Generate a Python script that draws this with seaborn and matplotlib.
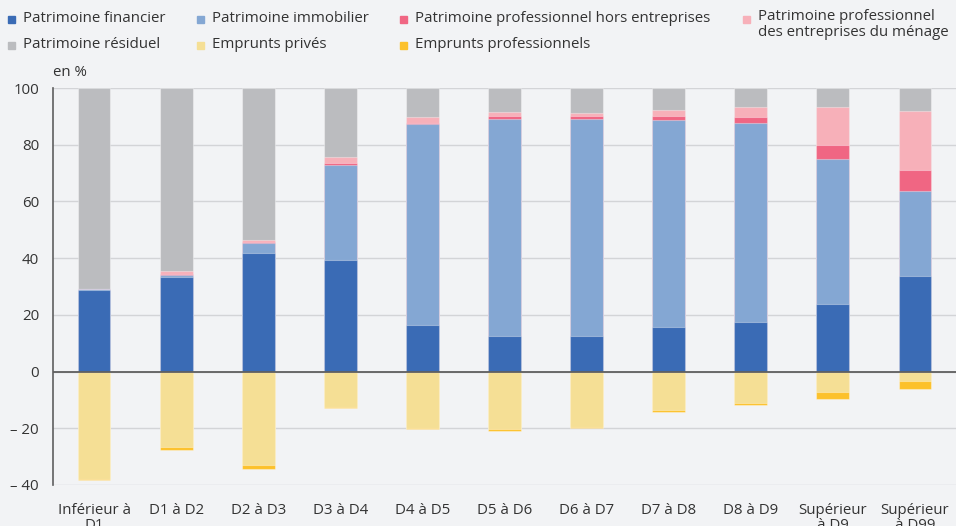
import numpy as np
import pandas as pd
import matplotlib.pyplot as plt
import seaborn as sns
from matplotlib.patches import Rectangle

# Catégories (déciles de patrimoine)
categories = ['Inférieur à\nD1', 'D1 à D2', 'D2 à D3', 'D3 à D4', 'D4 à D5', 'D5 à D6',
              'D6 à D7', 'D7 à D8', 'D8 à D9', 'Supérieur\nà D9', 'Supérieur\nà D99']

# Composition du patrimoine, en %
financier = [28.8, 33.5, 41.9, 39.4, 16.5, 12.7, 12.7, 15.6, 17.6, 24.0, 33.8]
immobilier = [0.2, 0.6, 3.3, 33.4, 70.7, 76.2, 76.4, 73.2, 70.1, 50.8, 29.9]
pro_hors = [0.1, 0.3, 0.4, 0.8, 0.6, 1.3, 0.9, 1.5, 2.0, 5.0, 7.3]
pro_entreprises = [0.1, 0.9, 0.8, 2.2, 1.9, 1.2, 1.1, 2.0, 3.7, 13.6, 20.9]
residuel = [70.8, 64.7, 53.6, 24.2, 10.3, 8.6, 8.9, 7.7, 6.6, 6.6, 8.1]
emprunts_prives = [-38.0, -26.6, -33.0, -12.6, -19.8, -20.3, -19.5, -13.6, -11.1, -7.1, -3.4]
emprunts_pro = [-0.2, -0.9, -1.5, -0.3, -0.4, -0.6, -0.3, -0.5, -0.7, -2.5, -2.7]

labels = ['Patrimoine financier', 'Patrimoine immobilier',
          'Patrimoine professionnel hors entreprises',
          'Patrimoine professionnel\ndes entreprises du ménage',
          'Patrimoine résiduel', 'Emprunts privés', 'Emprunts professionnels']
colors = ['#3a6bb5', '#84a7d3', '#f06683', '#f7b0b9', '#bbbcbf', '#f5df95', '#fcc12b']

bg = '#f2f3f5'
txt = '#333333'
fs = 10.8

sns.set_theme(style='white')
plt.rcParams['font.family'] = ['Open Sans', 'DejaVu Sans']

fig = plt.figure(figsize=(9.56, 5.26), dpi=100, facecolor=bg)
ax = fig.add_axes([53 / 956, 1 - 485 / 526, 1 - 53 / 956, (485 - 88) / 526])
ax.set_facecolor(bg)

# Empilement : on trace les cumuls du plus haut au plus bas
pos_layers = [financier, immobilier, pro_hors, pro_entreprises, residuel]
pos_cum = np.cumsum(np.array(pos_layers), axis=0)
neg_cum = np.cumsum(np.array([emprunts_prives, emprunts_pro]), axis=0)

edge = (1, 1, 1, 0.35)
for i in range(len(pos_layers) - 1, -1, -1):
    df = pd.DataFrame({'cat': categories, 'val': pos_cum[i]})
    sns.barplot(data=df, x='cat', y='val', color=colors[i], width=0.4,
                edgecolor=edge, linewidth=0.8, saturation=1, ax=ax, zorder=3)
for i, c in [(1, colors[6]), (0, colors[5])]:
    df = pd.DataFrame({'cat': categories, 'val': neg_cum[i]})
    sns.barplot(data=df, x='cat', y='val', color=c, width=0.4,
                edgecolor=edge, linewidth=0.8, saturation=1, ax=ax, zorder=3)

ax.set_ylim(-40, 100)
ax.set_xlim(-0.5, len(categories) - 0.5)
ax.set_yticks(range(-40, 101, 20))
ax.set_yticklabels(['– 40', '– 20', '0', '20', '40', '60', '80', '100'])
ax.grid(axis='y', color='#d3d4d7', linewidth=1, zorder=0)
ax.axhline(0, color='#5f5f5f', linewidth=1.3, zorder=4)
for s in ['top', 'right', 'bottom']:
    ax.spines[s].set_visible(False)
ax.spines['left'].set_color('#5f5f5f')
ax.spines['left'].set_linewidth(1.2)
ax.set_xlabel('')
ax.set_ylabel('')
ax.tick_params(axis='both', length=0, labelsize=fs, colors=txt, pad=10)
ax.tick_params(axis='x', pad=13)
for t in ax.get_xticklabels():
    t.set_linespacing(0.95)
fig.text(53 / 956, 1 - 73 / 526, 'en %', fontsize=fs, color=txt, va='center', ha='left')

# Légende
W, H = 956, 526
entries = [
    (0, 8, 19), (1, 197, 19), (2, 400, 19), (3, 743, 19),
    (4, 8, 45), (5, 197, 45), (6, 400, 45),
]
for idx, x, y in entries:
    fig.add_artist(Rectangle((x / W, 1 - (y + 4) / H), 7 / W, 7 / H,
                             transform=fig.transFigure, color=colors[idx]))
    if '\n' in labels[idx]:
        fig.text((x + 15) / W, 1 - (y - 10) / H, labels[idx], fontsize=fs,
                 color=txt, va='top', ha='left', linespacing=1.05)
    else:
        fig.text((x + 15) / W, 1 - y / H, labels[idx], fontsize=fs,
                 color=txt, va='center', ha='left')

fig.savefig('out.png', dpi=100, facecolor=bg)
